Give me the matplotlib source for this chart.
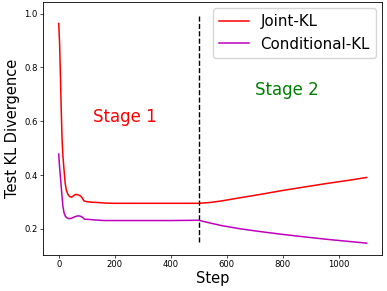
import matplotlib
matplotlib.use("Agg")
import matplotlib.pyplot as plt

# Joint-KL series
joint_steps = [0, 3, 6, 9, 12, 15, 19, 23, 27, 33, 39, 45, 52, 58, 63, 70, 78, 84, 90, 100, 120, 140, 163, 200, 300, 400, 500,
               540, 583, 650, 720, 796, 880, 960, 1040, 1100]
joint_vals = [0.963, 0.89, 0.77, 0.64, 0.53, 0.47, 0.418, 0.37, 0.344, 0.328, 0.32, 0.318, 0.322, 0.327, 0.328, 0.326, 0.322, 0.315, 0.304, 0.301, 0.299, 0.298, 0.296, 0.295, 0.295, 0.295, 0.295,
              0.298, 0.304, 0.316, 0.328, 0.342, 0.356, 0.369, 0.381, 0.391]

# Conditional-KL series
cond_steps = [0, 3, 7, 11, 15, 19, 24, 30, 36, 45, 55, 66, 74, 80, 86, 92, 110, 130, 163, 200, 300, 400, 500,
              540, 583, 650, 720, 796, 880, 960, 1040, 1100]
cond_vals = [0.478, 0.43, 0.381, 0.33, 0.283, 0.26, 0.246, 0.241, 0.238, 0.239, 0.244, 0.248, 0.248, 0.246, 0.242, 0.236, 0.235, 0.233, 0.231, 0.231, 0.231, 0.231, 0.232,
             0.222, 0.212, 0.2, 0.19, 0.18, 0.17, 0.161, 0.153, 0.147]

stage_boundary = 500
vline_range = (0.15, 1.0)
xlabel = "Step"
ylabel = "Test KL Divergence"
xticks = [0, 200, 400, 600, 800, 1000]
yticks = [0.2, 0.4, 0.6, 0.8, 1.0]

fig = plt.figure(figsize=(3.87, 2.91), dpi=100)
ax = fig.add_axes([0.112, 0.125, 0.875, 0.868])

ax.plot(joint_steps, joint_vals, color="red", lw=1.1, label="Joint-KL")
ax.plot(cond_steps, cond_vals, color="m", lw=1.1, label="Conditional-KL")
ax.vlines(stage_boundary, vline_range[0], vline_range[1], colors="black", linestyles="--", lw=1.0)

ax.text(235, 0.597, "Stage 1", color="red", fontsize=12, ha="center", va="baseline")
ax.text(816, 0.696, "Stage 2", color="green", fontsize=12, ha="center", va="baseline")

ax.set_xticks(xticks)
ax.set_yticks(yticks)
ax.tick_params(labelsize=6.1, length=2.2, width=0.5, pad=2)
ax.set_xlabel(xlabel, fontsize=10.5, labelpad=1)
ax.set_ylabel(ylabel, fontsize=10.5, labelpad=3)
for s in ax.spines.values():
    s.set_linewidth(0.6)

ax.legend(loc="upper right", fontsize=10.8, borderaxespad=0.4, handlelength=2.0)

fig.savefig("out.png", dpi=100)
